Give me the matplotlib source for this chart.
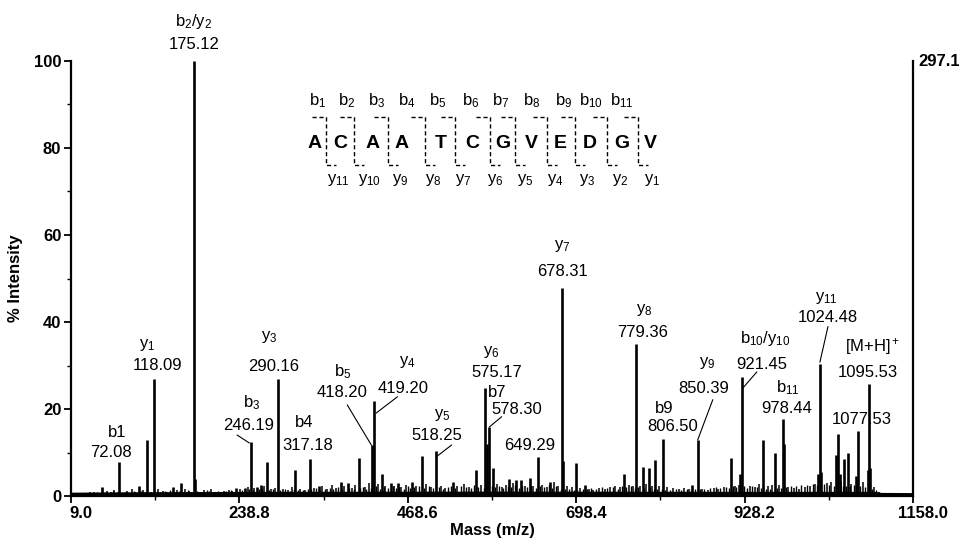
import numpy as np
import matplotlib.pyplot as plt
from matplotlib.lines import Line2D
from matplotlib.transforms import ScaledTranslation

plt.rcParams['font.family'] = ['Liberation Sans', 'DejaVu Sans']
plt.rcParams['mathtext.fontset'] = 'custom'
plt.rcParams['mathtext.rm'] = 'Liberation Sans'
plt.rcParams['mathtext.it'] = 'Liberation Sans'
plt.rcParams['mathtext.bf'] = 'Liberation Sans:bold'

# main fragment peaks (m/z, % intensity)
peak_mz = [51.4, 73.9, 102.3, 112.8, 121.7, 148.4, 159.7, 176.4, 178.5, 233.5,
           245.8, 254.9, 263.1, 268.6, 275.8, 291.1, 315.0, 335.5, 346.9, 377.5,
           386.5, 401.8, 419.8, 423.0, 433.5, 445.8, 454.8, 474.5, 488.5, 507.3,
           529.9, 562.0, 574.2, 576.0, 579.1, 584.2, 606.4, 616.5, 623.4, 634.7,
           646.1, 662.0, 679.1, 681.0, 698.5, 709.9, 763.1, 780.5, 789.5, 797.3,
           806.4, 816.8, 857.0, 864.2, 909.3, 922.5, 924.4, 953.5, 969.5, 980.4,
           982.5, 1029.0, 1031.0, 1033.0, 1052.8, 1056.0, 1058.0, 1064.1, 1069.2, 1080.5,
           1082.4, 1096.5, 1098.3, 1100.0, 1129.0]
peak_int = [2.0, 7.9, 2.3, 12.9, 26.8, 2.1, 2.9, 100.0, 4.0, 1.8,
            1.9, 12.4, 2.1, 2.5, 7.9, 26.8, 6.0, 8.4, 2.4, 3.3,
            2.9, 8.8, 11.7, 21.8, 5.0, 2.9, 2.9, 3.3, 9.3, 10.3,
            3.3, 6.0, 24.9, 12.0, 15.8, 6.4, 3.8, 3.7, 3.7, 4.2,
            9.0, 3.3, 47.8, 8.0, 7.7, 2.5, 5.1, 34.9, 6.7, 6.4,
            8.3, 13.2, 2.5, 12.9, 8.7, 5.0, 27.4, 12.9, 9.8, 17.7,
            12.0, 5.0, 30.3, 5.5, 9.4, 14.2, 5.0, 8.5, 10.0, 4.5,
            15.0, 6.0, 25.7, 6.5, 0.6]

# small background peaks
noise_mz = [15, 22, 28, 35, 41, 46, 58, 63, 68, 80, 86, 92, 97, 107, 118, 128, 134, 140,
            153, 165, 170, 185, 190, 200, 206, 212, 218, 224, 229, 240, 250, 259, 272, 282,
            288, 298, 305, 310, 322, 328, 340, 352, 358, 365, 370, 382, 392, 397, 410, 415,
            428, 438, 450, 460, 466, 480, 494, 500, 514, 520, 536, 545, 552, 568, 590, 597,
            602, 612, 628, 640, 652, 658, 668, 674, 686, 692, 704, 716, 722, 730, 738, 745,
            752, 758, 770, 776, 785, 794, 802, 812, 822, 830, 838, 846, 852, 870, 878, 886,
            892, 900, 915, 920, 935, 942, 948, 960, 965, 975, 988, 995, 1002, 1010, 1018,
            1024, 1040, 1046, 1060, 1074, 1090, 1105, 1112, 1120, 1135, 1145]
noise_int = [0.6, 0.8, 0.5, 0.9, 1.0, 0.7, 1.2, 0.9, 1.4, 0.8, 1.1, 1.5, 0.9, 1.3, 1.0, 1.6, 1.2, 1.0,
             1.4, 1.7, 1.1, 0.9, 1.3, 1.5, 1.0, 0.8, 1.2, 1.4, 1.1, 1.6, 2.0, 1.8, 2.2, 1.5,
             1.9, 1.6, 1.3, 2.0, 1.7, 1.4, 1.8, 2.2, 1.6, 2.6, 1.9, 2.4, 1.8, 2.5, 2.0, 3.0,
             2.8, 2.2, 2.4, 2.0, 2.6, 2.2, 2.8, 2.0, 2.4, 1.8, 2.3, 2.7, 2.0, 2.5, 2.8, 2.1,
             2.6, 3.0, 2.2, 2.4, 2.6, 2.0, 3.2, 2.2, 2.4, 2.0, 1.8, 1.6, 1.4, 1.8, 1.5, 2.0,
             2.4, 2.0, 2.6, 2.2, 2.4, 2.8, 2.2, 2.4, 2.0, 1.8, 1.6, 1.9, 1.5, 1.7, 1.4, 1.8,
             1.5, 2.0, 2.2, 2.6, 2.4, 2.0, 2.8, 2.2, 2.5, 2.6, 2.0, 1.8, 1.6, 2.0, 2.2,
             2.8, 3.0, 3.2, 3.4, 2.8, 3.2, 2.0, 1.0, 0.6, 0.5, 0.4]
noise2_mz = [12, 18, 25, 31, 38, 44, 50, 55, 61, 66, 72, 77, 83, 89, 95, 100, 104, 110, 115,
             124, 131, 137, 144, 150, 156, 162, 168, 173, 181, 187, 194, 197, 203, 209, 215,
             221, 227, 236, 243, 247, 252, 257, 265, 270, 279, 285, 294, 301, 308, 313, 319,
             325, 332, 337, 344, 349, 355, 362, 367, 374, 379, 389, 395, 404, 407, 412, 418,
             425, 431, 436, 442, 448, 453, 457, 463, 469, 472, 477, 484, 491, 497, 503, 511,
             517, 524, 527, 533, 541, 548, 555, 559, 565, 572, 583, 587, 593, 599, 605, 609,
             615, 620, 625, 631, 637, 643, 649, 655, 661, 665, 671, 677, 683, 689, 695, 700,
             707, 713, 719, 725, 733, 741, 748, 755, 761, 767, 773, 779, 783, 791, 799, 805,
             809, 815, 819, 826, 834, 842, 849, 855, 861, 867, 873, 881, 889, 895, 903, 907,
             912, 917, 928, 932, 938, 945, 951, 957, 963, 972, 978, 985, 991, 998, 1005, 1013,
             1021, 1027, 1036, 1043, 1050, 1062, 1067, 1072, 1078, 1086, 1093, 1102, 1108]
noise2_int = [0.5, 0.7, 0.6, 0.8, 0.6, 0.9, 0.7, 1.0, 0.8, 1.1, 0.9, 0.7, 1.0, 0.8, 1.2, 0.9,
              1.1, 1.0, 0.8, 1.2, 0.9, 1.1, 1.3, 0.9, 1.2, 1.0, 1.3, 0.9, 1.1, 1.0, 1.4, 1.2,
              1.0, 1.1, 0.9, 1.2, 1.3, 1.1, 1.4, 1.2, 1.6, 1.3, 1.5, 1.8, 1.4, 1.7, 1.3, 1.5,
              1.2, 1.6, 1.4, 1.3, 1.7, 1.5, 1.9, 1.4, 1.6, 1.8, 1.5, 2.0, 1.6, 1.9, 1.7, 1.8,
              2.1, 1.6, 1.9, 2.2, 1.7, 2.0, 1.8, 2.3, 1.9, 2.1, 1.7, 2.4, 1.9, 2.0, 2.3, 1.8,
              2.2, 1.9, 2.1, 1.7, 2.0, 2.4, 1.8, 2.2, 2.0, 1.9, 2.5, 2.1, 1.8, 2.2, 2.0, 2.4,
              1.9, 2.3, 2.1, 2.6, 1.9, 2.2, 2.0, 2.4, 1.8, 2.3, 2.0, 2.5, 1.9, 2.2, 1.7, 1.5,
              1.6, 1.4, 1.3, 1.5, 1.7, 1.9, 1.6, 2.0, 1.8, 2.1, 1.7, 2.2, 2.0, 2.3, 1.9, 2.1,
              1.8, 2.0, 1.7, 1.5, 1.6, 1.4, 1.3, 1.5, 1.4, 1.6, 1.3, 1.5, 1.7, 1.6, 1.9, 2.0,
              1.8, 2.1, 1.9, 2.2, 2.0, 2.3, 1.8, 2.2, 2.0, 1.9, 1.7, 1.6, 1.8, 1.9, 2.1, 2.2,
              2.4, 2.6, 2.5, 2.8, 2.6, 2.7, 2.5, 2.4, 2.2, 2.2, 2.4, 2.6, 2.3, 2.0, 1.6, 1.3]

base_mz = [9, 100, 300, 600, 900, 1105, 1115, 1158]
base_int = [0.35, 0.45, 0.55, 0.6, 0.55, 0.55, 0.3, 0.25]

# peak annotations: (ion name, m/z text)
ion_names = ['b1', r'y$_1$', r'b$_2$/y$_2$', r'b$_3$', r'y$_3$', 'b4', r'b$_5$', r'y$_4$',
             r'y$_5$', r'y$_6$', 'b7', r'y$_7$', r'y$_8$', r'y$_9$', 'b9', r'b$_{10}$/y$_{10}$',
             r'b$_{11}$', r'y$_{11}$', r'[M+H]$^+$']
ion_values = ['72.08', '118.09', '175.12', '246.19', '290.16', '317.18', '418.20', '419.20',
              '518.25', '575.17', '578.30', '678.31', '779.36', '850.39', '806.50', '921.45',
              '978.44', '1024.48', '1095.53']
extra_values = ['649.29', '1077.53']

# label positions (data coords): name xy, value xy
name_pos = [(71.8, 14.5), (112.8, 34.7), (177, 109.0), (254.9, 21.4), (279.5, 36.6),
            (327.3, 17.0), (379.2, 28.5), (468.0, 30.8), (515.9, 18.6), (582.8, 33.1),
            (591.0, 23.7), (679.8, 57.5), (791.8, 42.8), (876.5, 30.6), (819.0, 20.2),
            (955.8, 36.1), (987.2, 24.8), (1040.5, 45.5), (1103.3, 34.3)]
value_pos = [(63.6, 10.1), (126.5, 29.9), (177, 103.7), (250.8, 16.3), (285.0, 29.7),
             (331.4, 11.5), (379.2, 23.7), (462.6, 24.8), (507.7, 13.8), (589.6, 28.5),
             (617.0, 20.0), (679.8, 51.5), (789.0, 37.5), (872.4, 24.6), (830.0, 15.9),
             (951.7, 30.3), (985.8, 20.2), (1041.9, 41.1), (1096.5, 28.5)]
extra_pos = [(634.7, 11.7), (1088.3, 17.5)]
leaders = [((235.8, 14.0), (252.2, 12.2)), ((386.1, 20.9), (418.9, 11.7)),
           ((454.4, 22.8), (425.7, 19.1)), ((528.2, 11.7), (509.0, 9.2)),
           ((596.5, 18.2), (580.1, 15.9)), ((884.7, 22.1), (864.2, 12.9)),
           ((944.8, 28.5), (925.7, 24.8)), ((1041.9, 38.9), (1031.0, 30.8))]

# peptide sequence diagram
residues = ['A', 'C', 'A', 'A', 'T', 'C', 'G', 'V', 'E', 'D', 'G', 'V']
b_ions = [r'b$_{%d}$' % i for i in range(1, 12)]
y_ions = [r'y$_{%d}$' % i for i in range(11, 0, -1)]
res_px = [315, 340, 373, 402, 441, 472, 503, 531, 560, 590, 622, 650]
b_px = [318, 347, 377, 407, 438, 471, 501, 532, 564, 591, 622]
y_px = [338, 370, 400, 433, 463, 495, 525, 555, 587, 620, 652]
cut_px = [326, 354, 388, 425, 455, 490, 515, 547, 575, 607, 638]

W, H = 959, 538
fig = plt.figure(figsize=(W / 100, H / 100), dpi=100)
ax = fig.add_axes([71 / W, 1 - 496 / H, (913 - 71) / W, (496 - 61) / H])

ax.vlines(noise2_mz, 0, noise2_int, color='black', lw=1.0)
ax.vlines(noise_mz, 0, noise_int, color='black', lw=1.1)
ax.plot(base_mz, base_int, color='black', lw=2.6, solid_capstyle='butt')
ax.vlines(peak_mz, 0, peak_int, color='black', lw=1.9)

ax.set_xlim(9.0, 1158.0)
ax.set_ylim(0, 100)
ax.spines['top'].set_visible(False)
for s in ['left', 'right', 'bottom']:
    ax.spines[s].set_linewidth(1.6)

xt = np.linspace(9.0, 1158.0, 6)
ax.set_xticks(xt)
ax.set_xticklabels(['%.1f' % v for v in xt])
ax.set_xticks((xt[:-1] + xt[1:]) / 2, minor=True)
ax.set_yticks([0, 20, 40, 60, 80, 100])
ax.set_yticks([10, 30, 50, 70, 90], minor=True)
ax.tick_params(axis='both', which='major', length=5, width=1.3, labelsize=12, pad=2)
ax.tick_params(axis='both', which='minor', length=3, width=1.0)
for lab in ax.get_xticklabels() + ax.get_yticklabels():
    lab.set_fontweight('bold')
off = ScaledTranslation(10 / 100, 0, fig.dpi_scale_trans)
for lab in ax.get_xticklabels():
    lab.set_transform(lab.get_transform() + off)

ax.set_xlabel('Mass (m/z)', fontsize=12, fontweight='bold', labelpad=2)
ax.set_ylabel('% Intensity', fontsize=12, fontweight='bold', labelpad=8)
ax.text(1.006, 1.0, '297.1', transform=ax.transAxes, fontsize=12, fontweight='bold',
        ha='left', va='center')

for name, (nx, ny) in zip(ion_names, name_pos):
    ax.text(nx, ny, name, fontsize=12, ha='center', va='center', clip_on=False)
for val, (vx, vy) in zip(ion_values, value_pos):
    ax.text(vx, vy, val, fontsize=12, ha='center', va='center', clip_on=False)
for val, (vx, vy) in zip(extra_values, extra_pos):
    ax.text(vx, vy, val, fontsize=12, ha='center', va='center')
for (x0, y0), (x1, y1) in leaders:
    ax.plot([x0, x1], [y0, y1], color='black', lw=0.8)


def fpos(px, py):
    return px / W, 1 - py / H


for r, px in zip(residues, res_px):
    fig.text(*fpos(px, 143), r, fontsize=14, fontweight='bold', ha='center', va='center')
for b, px in zip(b_ions, b_px):
    fig.text(*fpos(px, 101), b, fontsize=12, ha='center', va='center')
for y, px in zip(y_ions, y_px):
    fig.text(*fpos(px, 180), y, fontsize=12, ha='center', va='center')
for cx in cut_px:
    xs = [cx - 14, cx, cx, cx + 10]
    ys = [117, 117, 165, 165]
    fig.add_artist(Line2D([x / W for x in xs], [1 - y / H for y in ys], color='black',
                          lw=1.0, ls=(0, (3, 2))))

fig.savefig('out.png', dpi=100)
